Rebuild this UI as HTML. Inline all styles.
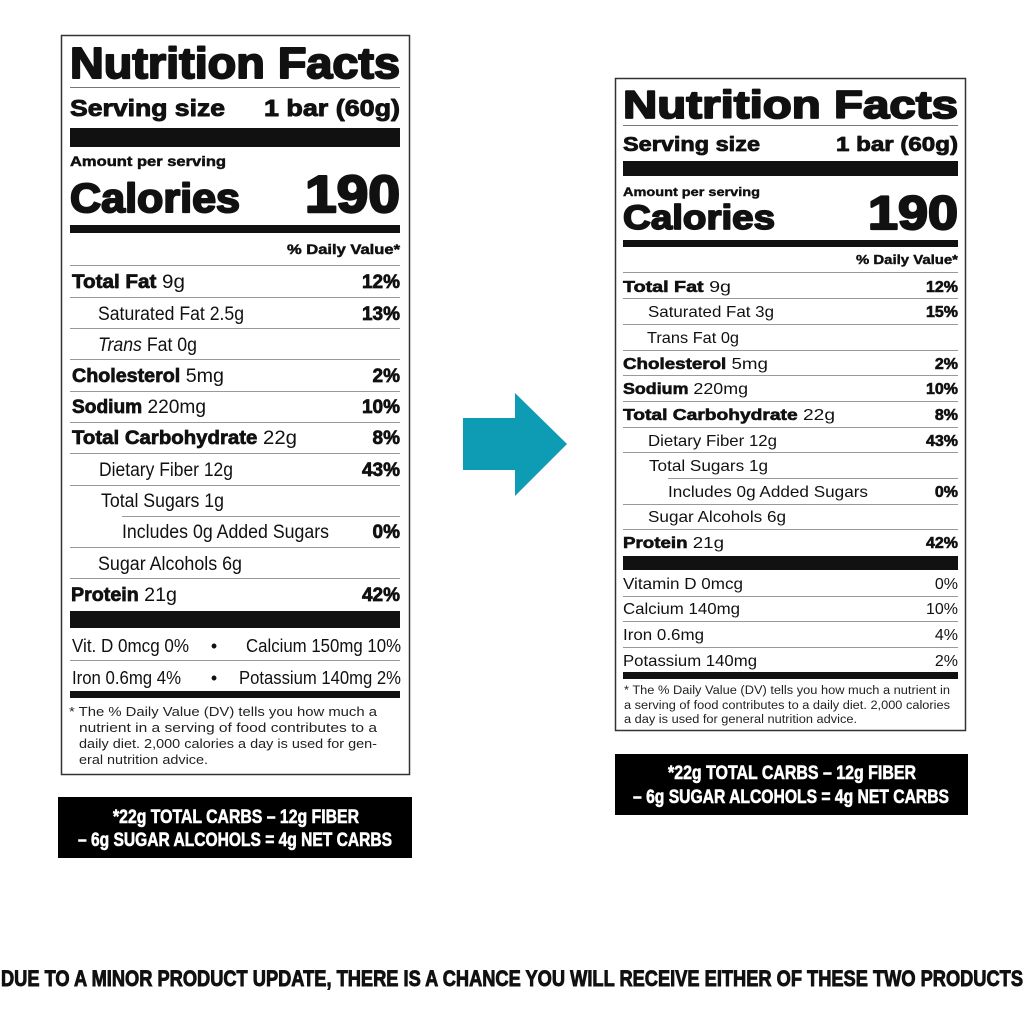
<!DOCTYPE html>
<html><head><meta charset="utf-8"><style>html,body{margin:0;padding:0;background:#fff}svg{display:block}</style></head>
<body>
<svg width="1024" height="1024" viewBox="0 0 1024 1024" xmlns="http://www.w3.org/2000/svg" font-family="'Liberation Sans',sans-serif" fill="#111">
<rect x="0" y="0" width="1024" height="1024" fill="#fff"/>
<!-- LEFT PANEL -->
<rect x="61.5" y="35.5" width="348" height="739" fill="#fff" stroke="#333" stroke-width="1.5"/>
<g stroke="#111" stroke-linejoin="round">
<text x="70" y="78" font-size="44" font-weight="900" stroke-width="2" textLength="330" lengthAdjust="spacingAndGlyphs">Nutrition Facts</text>
<text x="70" y="116" font-size="23" font-weight="bold" stroke-width="0.9" textLength="155" lengthAdjust="spacingAndGlyphs">Serving size</text>
<text x="400" y="116" font-size="23" font-weight="bold" stroke-width="0.9" text-anchor="end" textLength="136" lengthAdjust="spacingAndGlyphs">1 bar (60g)</text>
<text x="70" y="166" font-size="14" font-weight="bold" stroke-width="0.5" textLength="156" lengthAdjust="spacingAndGlyphs">Amount per serving</text>
<text x="70" y="212" font-size="41" font-weight="900" stroke-width="2" textLength="170" lengthAdjust="spacingAndGlyphs">Calories</text>
<text x="400" y="212" font-size="52" font-weight="900" stroke-width="2.4" text-anchor="end" textLength="95" lengthAdjust="spacingAndGlyphs">190</text>
<text x="400" y="254" font-size="14" font-weight="bold" stroke-width="0.5" text-anchor="end" textLength="113" lengthAdjust="spacingAndGlyphs">% Daily Value*</text>
</g>
<rect x="70" y="87" width="330" height="1" fill="#777"/>
<rect x="70" y="128" width="330" height="19"/>
<rect x="70" y="225" width="330" height="8"/>
<g fill="#999">
<rect x="70" y="265" width="330" height="1"/>
<rect x="70" y="297" width="330" height="1"/>
<rect x="70" y="328" width="330" height="1"/>
<rect x="70" y="359" width="330" height="1"/>
<rect x="70" y="391" width="330" height="1"/>
<rect x="70" y="422" width="330" height="1"/>
<rect x="70" y="453" width="330" height="1"/>
<rect x="70" y="485" width="330" height="1"/>
<rect x="122" y="516" width="278" height="1"/>
<rect x="70" y="547" width="330" height="1"/>
<rect x="70" y="578" width="330" height="1"/>
<rect x="70" y="660" width="330" height="1"/>
</g>
<g font-size="19">
<text x="72" y="288" textLength="113" lengthAdjust="spacingAndGlyphs"><tspan font-weight="bold" stroke="#111" stroke-width="0.7">Total Fat</tspan> 9g</text>
<text x="400" y="288" font-weight="bold" text-anchor="end" stroke="#111" stroke-width="0.7">12%</text>
<text x="98" y="320" textLength="146" lengthAdjust="spacingAndGlyphs">Saturated Fat 2.5g</text>
<text x="400" y="320" font-weight="bold" text-anchor="end" stroke="#111" stroke-width="0.7">13%</text>
<text x="98" y="351" textLength="99" lengthAdjust="spacingAndGlyphs"><tspan font-style="italic">Trans</tspan> Fat 0g</text>
<text x="72" y="382" textLength="152" lengthAdjust="spacingAndGlyphs"><tspan font-weight="bold" stroke="#111" stroke-width="0.7">Cholesterol</tspan> 5mg</text>
<text x="400" y="382" font-weight="bold" text-anchor="end" stroke="#111" stroke-width="0.7">2%</text>
<text x="72" y="413" textLength="134" lengthAdjust="spacingAndGlyphs"><tspan font-weight="bold" stroke="#111" stroke-width="0.7">Sodium</tspan> 220mg</text>
<text x="400" y="413" font-weight="bold" text-anchor="end" stroke="#111" stroke-width="0.7">10%</text>
<text x="72" y="444" textLength="225" lengthAdjust="spacingAndGlyphs"><tspan font-weight="bold" stroke="#111" stroke-width="0.7">Total Carbohydrate</tspan> 22g</text>
<text x="400" y="444" font-weight="bold" text-anchor="end" stroke="#111" stroke-width="0.7">8%</text>
<text x="99" y="476" textLength="134" lengthAdjust="spacingAndGlyphs">Dietary Fiber 12g</text>
<text x="400" y="476" font-weight="bold" text-anchor="end" stroke="#111" stroke-width="0.7">43%</text>
<text x="101" y="507" textLength="123" lengthAdjust="spacingAndGlyphs">Total Sugars 1g</text>
<text x="122" y="538" textLength="207" lengthAdjust="spacingAndGlyphs">Includes 0g Added Sugars</text>
<text x="400" y="538" font-weight="bold" text-anchor="end" stroke="#111" stroke-width="0.7">0%</text>
<text x="98" y="570" textLength="144" lengthAdjust="spacingAndGlyphs">Sugar Alcohols 6g</text>
<text x="71" y="601" textLength="106" lengthAdjust="spacingAndGlyphs"><tspan font-weight="bold" stroke="#111" stroke-width="0.7">Protein</tspan> 21g</text>
<text x="400" y="601" font-weight="bold" text-anchor="end" stroke="#111" stroke-width="0.7">42%</text>
</g>
<rect x="70" y="611" width="330" height="17"/>
<g font-size="18">
<text x="72" y="652" textLength="117" lengthAdjust="spacingAndGlyphs">Vit. D 0mcg 0%</text>
<text x="214" y="652" text-anchor="middle">•</text>
<text x="401" y="652" text-anchor="end" textLength="155" lengthAdjust="spacingAndGlyphs">Calcium 150mg 10%</text>
<text x="72" y="684" textLength="109" lengthAdjust="spacingAndGlyphs">Iron 0.6mg 4%</text>
<text x="214" y="684" text-anchor="middle">•</text>
<text x="401" y="684" text-anchor="end" textLength="162" lengthAdjust="spacingAndGlyphs">Potassium 140mg 2%</text>
</g>
<rect x="70" y="691" width="330" height="7"/>
<g font-size="13" fill="#222">
<text x="69" y="716" textLength="308" lengthAdjust="spacingAndGlyphs">* The % Daily Value (DV) tells you how much a</text>
<text x="79" y="732" textLength="298" lengthAdjust="spacingAndGlyphs">nutrient in a serving of food contributes to a</text>
<text x="79" y="748" textLength="298" lengthAdjust="spacingAndGlyphs">daily diet. 2,000 calories a day is used for gen-</text>
<text x="79" y="764" textLength="129" lengthAdjust="spacingAndGlyphs">eral nutrition advice.</text>
</g>
<rect x="58" y="797" width="354" height="61" fill="#000"/>
<g fill="#fff" stroke="#fff" stroke-width="0.6" font-family="'Liberation Sans Narrow','Liberation Sans',sans-serif" font-weight="bold" font-size="19">
<text x="113" y="823" textLength="246" lengthAdjust="spacingAndGlyphs">*22g TOTAL CARBS – 12g FIBER</text>
<text x="78" y="846" textLength="314" lengthAdjust="spacingAndGlyphs">– 6g SUGAR ALCOHOLS = 4g NET CARBS</text>
</g>
<!-- ARROW -->
<polygon points="463,418 515,418 515,393 567,444 515,496 515,470 463,470" fill="#0e9cb5"/>
<!-- RIGHT PANEL -->
<rect x="615.5" y="78.5" width="350" height="652" fill="#fff" stroke="#333" stroke-width="1.5"/>
<g stroke="#111" stroke-linejoin="round">
<text x="623" y="118" font-size="39" font-weight="900" stroke-width="1.8" textLength="335" lengthAdjust="spacingAndGlyphs">Nutrition Facts</text>
<text x="623" y="151" font-size="20" font-weight="bold" stroke-width="0.8" textLength="137" lengthAdjust="spacingAndGlyphs">Serving size</text>
<text x="958" y="151" font-size="20" font-weight="bold" stroke-width="0.8" text-anchor="end" textLength="122" lengthAdjust="spacingAndGlyphs">1 bar (60g)</text>
<text x="623" y="196" font-size="12" font-weight="bold" stroke-width="0.4" textLength="137" lengthAdjust="spacingAndGlyphs">Amount per serving</text>
<text x="623" y="229" font-size="34" font-weight="900" stroke-width="1.7" textLength="152" lengthAdjust="spacingAndGlyphs">Calories</text>
<text x="958" y="229" font-size="47" font-weight="900" stroke-width="2.2" text-anchor="end" textLength="90" lengthAdjust="spacingAndGlyphs">190</text>
<text x="958" y="264" font-size="12.5" font-weight="bold" stroke-width="0.4" text-anchor="end" textLength="102" lengthAdjust="spacingAndGlyphs">% Daily Value*</text>
</g>
<rect x="623" y="125" width="335" height="1" fill="#777"/>
<rect x="623" y="161" width="335" height="15"/>
<rect x="623" y="240" width="335" height="7"/>
<g fill="#999">
<rect x="623" y="272" width="335" height="1"/>
<rect x="623" y="298" width="335" height="1"/>
<rect x="623" y="324" width="335" height="1"/>
<rect x="623" y="350" width="335" height="1"/>
<rect x="623" y="375" width="335" height="1"/>
<rect x="623" y="401" width="335" height="1"/>
<rect x="623" y="427" width="335" height="1"/>
<rect x="623" y="452" width="335" height="1"/>
<rect x="668" y="478" width="290" height="1"/>
<rect x="623" y="504" width="335" height="1"/>
<rect x="623" y="529" width="335" height="1"/>
<rect x="623" y="596" width="335" height="1"/>
<rect x="623" y="621" width="335" height="1"/>
<rect x="623" y="647" width="335" height="1"/>
</g>
<g font-size="16">
<text x="623" y="292" textLength="108" lengthAdjust="spacingAndGlyphs"><tspan font-weight="bold" stroke="#111" stroke-width="0.6">Total Fat</tspan> 9g</text>
<text x="958" y="292" font-weight="bold" text-anchor="end" stroke="#111" stroke-width="0.6">12%</text>
<text x="648" y="317" textLength="126" lengthAdjust="spacingAndGlyphs">Saturated Fat 3g</text>
<text x="958" y="317" font-weight="bold" text-anchor="end" stroke="#111" stroke-width="0.6">15%</text>
<text x="647" y="343" textLength="92" lengthAdjust="spacingAndGlyphs">Trans Fat 0g</text>
<text x="623" y="369" textLength="145" lengthAdjust="spacingAndGlyphs"><tspan font-weight="bold" stroke="#111" stroke-width="0.6">Cholesterol</tspan> 5mg</text>
<text x="958" y="369" font-weight="bold" text-anchor="end" stroke="#111" stroke-width="0.6">2%</text>
<text x="623" y="394" textLength="125" lengthAdjust="spacingAndGlyphs"><tspan font-weight="bold" stroke="#111" stroke-width="0.6">Sodium</tspan> 220mg</text>
<text x="958" y="394" font-weight="bold" text-anchor="end" stroke="#111" stroke-width="0.6">10%</text>
<text x="623" y="420" textLength="212" lengthAdjust="spacingAndGlyphs"><tspan font-weight="bold" stroke="#111" stroke-width="0.6">Total Carbohydrate</tspan> 22g</text>
<text x="958" y="420" font-weight="bold" text-anchor="end" stroke="#111" stroke-width="0.6">8%</text>
<text x="648" y="446" textLength="129" lengthAdjust="spacingAndGlyphs">Dietary Fiber 12g</text>
<text x="958" y="446" font-weight="bold" text-anchor="end" stroke="#111" stroke-width="0.6">43%</text>
<text x="649" y="471" textLength="119" lengthAdjust="spacingAndGlyphs">Total Sugars 1g</text>
<text x="668" y="497" textLength="200" lengthAdjust="spacingAndGlyphs">Includes 0g Added Sugars</text>
<text x="958" y="497" font-weight="bold" text-anchor="end" stroke="#111" stroke-width="0.6">0%</text>
<text x="648" y="522" textLength="138" lengthAdjust="spacingAndGlyphs">Sugar Alcohols 6g</text>
<text x="623" y="548" textLength="101" lengthAdjust="spacingAndGlyphs"><tspan font-weight="bold" stroke="#111" stroke-width="0.6">Protein</tspan> 21g</text>
<text x="958" y="548" font-weight="bold" text-anchor="end" stroke="#111" stroke-width="0.6">42%</text>
</g>
<rect x="623" y="556" width="335" height="14"/>
<g font-size="16">
<text x="623" y="589" textLength="120" lengthAdjust="spacingAndGlyphs">Vitamin D 0mcg</text>
<text x="958" y="589" text-anchor="end">0%</text>
<text x="623" y="614" textLength="117" lengthAdjust="spacingAndGlyphs">Calcium 140mg</text>
<text x="958" y="614" text-anchor="end">10%</text>
<text x="623" y="640" textLength="81" lengthAdjust="spacingAndGlyphs">Iron 0.6mg</text>
<text x="958" y="640" text-anchor="end">4%</text>
<text x="623" y="666" textLength="134" lengthAdjust="spacingAndGlyphs">Potassium 140mg</text>
<text x="958" y="666" text-anchor="end">2%</text>
</g>
<rect x="623" y="672" width="335" height="7"/>
<g font-size="11.5" fill="#222">
<text x="624" y="694" textLength="326" lengthAdjust="spacingAndGlyphs">* The % Daily Value (DV) tells you how much a nutrient in</text>
<text x="624" y="709" textLength="326" lengthAdjust="spacingAndGlyphs">a serving of food contributes to a daily diet. 2,000 calories</text>
<text x="624" y="723" textLength="233" lengthAdjust="spacingAndGlyphs">a day is used for general nutrition advice.</text>
</g>
<rect x="615" y="754" width="353" height="61" fill="#000"/>
<g fill="#fff" stroke="#fff" stroke-width="0.6" font-family="'Liberation Sans Narrow','Liberation Sans',sans-serif" font-weight="bold" font-size="19">
<text x="668" y="779" textLength="248" lengthAdjust="spacingAndGlyphs">*22g TOTAL CARBS – 12g FIBER</text>
<text x="633" y="803" textLength="316" lengthAdjust="spacingAndGlyphs">– 6g SUGAR ALCOHOLS = 4g NET CARBS</text>
</g>
<!-- BOTTOM -->
<text x="1" y="986" stroke="#111" stroke-width="0.9" font-family="'Liberation Sans Narrow','Liberation Sans',sans-serif" font-weight="bold" font-size="22" textLength="1022" lengthAdjust="spacingAndGlyphs">DUE TO A MINOR PRODUCT UPDATE, THERE IS A CHANCE YOU WILL RECEIVE EITHER OF THESE TWO PRODUCTS</text>
</svg>
</body></html>
